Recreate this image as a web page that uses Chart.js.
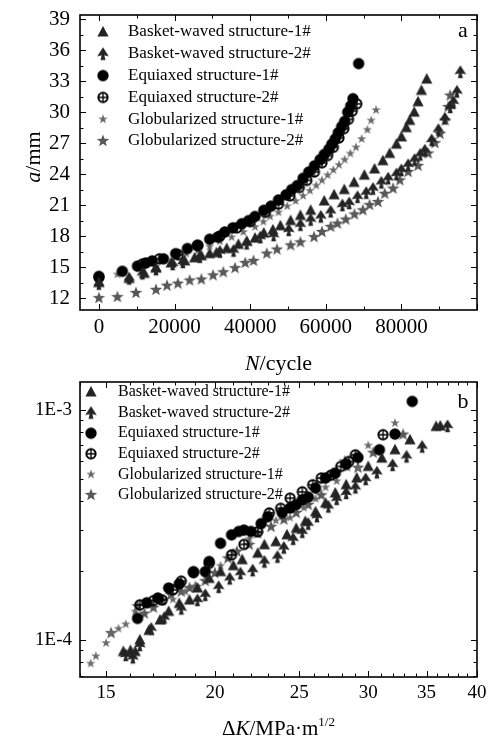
<!DOCTYPE html>
<html><head><meta charset="utf-8">
<script src="https://cdn.jsdelivr.net/npm/chart.js@4.4.1/dist/chart.umd.min.js"></script>
<style>
html,body{margin:0;padding:0;background:#fff;}
#wrap{position:relative;width:489px;height:743px;overflow:hidden;background:#fff;}
canvas{position:absolute;left:0;}
#c1{top:0;width:489px;height:380px;}
#c2{top:372px;width:489px;height:371px;}
</style></head><body>
<div id="wrap"><canvas id="c1" width="489" height="380"></canvas><canvas id="c2" width="489" height="371"></canvas></div>
<script>
// ---------- Chart (a): a vs N ----------
const seriesNames = ["Basket-waved structure-1#","Basket-waved structure-2#","Equiaxed structure-1#","Equiaxed structure-2#","Globularized structure-1#","Globularized structure-2#"];
const basket1N = [0,8000,12000,15100,19100,22700,25300,27100,29300,31100,33800,36900,39100,41300,43600,46000,48000,50700,53300,56000,59600,62200,64900,67500,70200,72900,75100,76900,78700,80000,81300,82200,83400,84400,85300,86700];
const basket1A = [13.5,13.9,14.4,14.9,15.4,15.6,15.9,16.1,16.3,16.4,16.8,17.2,17.5,17.8,18.3,18.6,19.0,19.5,20.0,20.5,21.4,22.0,22.5,23.2,23.9,24.5,25.3,26.0,26.9,27.6,28.5,29.2,30.0,31.0,32.1,33.2];
const basket2N = [0,8000,11500,15100,19500,22200,26700,32000,35600,39100,42700,46200,50200,53300,56000,58700,61300,64400,66200,68400,70700,72500,74700,76500,78700,80000,81800,83500,85000,86200,88000,89800,91500,92900,93800,94700,95600];
const basket2A = [13.4,13.9,14.4,14.8,15.3,15.5,16.0,16.5,16.6,17.3,17.9,18.1,18.6,19.1,19.6,19.9,20.4,21.0,21.2,21.8,22.2,22.6,23.2,23.6,24.0,24.4,24.9,25.4,25.9,26.3,27.3,28.3,29.4,30.5,31.0,32.0,33.9];
const equi1N = [0,6200,10200,12400,14100,17100,20300,23400,26200,29300,31400,33300,35400,37800,39600,41300,43600,45500,47500,49500,51000,52500,54000,55500,57000,58500,59600,60800,61600,62500,63300,64200,65000,65800,66600,67200,68700];
const equi1A = [14.1,14.6,15.1,15.4,15.6,15.8,16.3,16.8,17.1,17.7,17.9,18.4,18.8,19.2,19.5,19.9,20.5,20.9,21.5,22.0,22.5,22.9,23.6,24.2,24.8,25.4,25.9,26.4,26.9,27.4,28.0,28.6,29.1,30.0,30.6,31.3,34.7];
const equi2N = [0,11500,16000,21000,26000,32000,36500,40000,44000,47500,50500,53000,55000,57000,59000,60500,62000,63500,64800,66000,67000,68200];
const equi2A = [14.0,15.3,15.8,16.2,17.1,18.0,18.8,19.4,20.3,21.1,21.9,22.7,23.4,24.2,25.1,25.8,26.6,27.5,28.4,29.3,30.1,30.8];
const glob1N = [0,4900,10700,15100,20400,23100,26200,29300,32000,35100,38200,41300,43500,45300,47500,49800,52000,54000,55800,57500,59000,60500,62000,63500,65000,66500,68000,69500,71000,72000,73300];
const glob1A = [13.9,14.3,14.9,15.0,16.0,16.3,16.6,17.0,17.5,17.9,18.4,18.9,19.4,19.9,20.3,20.9,21.4,21.9,22.4,22.9,23.4,23.9,24.4,24.9,25.4,26.0,26.6,27.4,28.3,29.2,30.2];
const glob2N = [0,4900,9800,15100,18000,20900,24000,27100,30200,32900,36000,38700,40900,44400,47100,50700,53300,56900,59000,61300,63100,65300,67600,69800,71600,73800,75600,77800,79600,81800,84400,87100,88900,90200,91600,92400,92900];
const glob2A = [12.0,12.1,12.5,12.8,13.2,13.4,13.7,13.8,14.2,14.5,14.9,15.4,15.6,16.3,16.7,17.1,17.4,17.9,18.4,18.9,19.2,19.6,20.1,20.5,21.0,21.3,22.1,22.6,23.4,24.2,24.8,26.0,27.0,27.9,29.2,30.5,31.6];
const topXTicks = [0,20000,40000,60000,80000];
const topYTicks = [12,15,18,21,24,27,30,33,36,39];

// ---------- Chart (b): da/dN vs ΔK ----------
const basket1K = [15.7,16.0,16.2,16.4,16.8,17.3,17.7,18.2,18.7,19.1,19.7,20.3,21.0,21.5,22.4,22.8,23.5,24.2,24.8,25.4,26.1,26.8,27.5,28.3,29.1,30.0,31.1,32.2,33.5,35.9,36.3];
const basket1V = [8.9e-5,9.0e-5,8.9e-5,1.0e-4,1.1e-4,1.22e-4,1.33e-4,1.44e-4,1.49e-4,1.68e-4,1.85e-4,1.98e-4,2.1e-4,2.23e-4,2.38e-4,2.59e-4,2.67e-4,2.86e-4,3.05e-4,3.27e-4,3.6e-4,3.93e-4,4.35e-4,4.72e-4,5.05e-4,5.67e-4,6.16e-4,6.7e-4,7.4e-4,8.46e-4,8.5e-4];
const basket2K = [15.8,16.1,16.4,16.9,17.5,18.3,19.1,19.5,20.2,20.8,21.4,22.1,22.8,23.6,24.0,24.6,25.2,25.6,26.2,27.0,27.6,28.3,29.0,29.8,30.7,32.0,33.2,34.6,37.0];
const basket2V = [8.6e-5,8.4e-5,9.5e-5,1.12e-4,1.25e-4,1.37e-4,1.49e-4,1.57e-4,1.7e-4,1.85e-4,1.95e-4,2.01e-4,2.19e-4,2.3e-4,2.52e-4,2.75e-4,2.95e-4,3.2e-4,3.45e-4,3.8e-4,4.1e-4,4.35e-4,4.6e-4,5.0e-4,5.35e-4,5.76e-4,6.27e-4,6.92e-4,8.5e-4];
const equi1K = [16.3,16.7,17.2,17.7,18.2,18.9,19.5,19.7,20.3,20.9,21.3,21.6,22.0,22.6,23.0,23.9,24.4,24.8,25.2,25.6,26.1,26.8,27.5,28.3,29.2,30.9,32.2,33.7];
const equi1V = [1.24e-4,1.45e-4,1.52e-4,1.68e-4,1.75e-4,1.98e-4,1.98e-4,2.19e-4,2.63e-4,2.86e-4,2.96e-4,3.0e-4,2.96e-4,3.2e-4,3.43e-4,3.57e-4,3.74e-4,3.87e-4,4.06e-4,4.17e-4,4.57e-4,5.05e-4,5.3e-4,5.8e-4,6.2e-4,6.7e-4,7.84e-4,1.087e-3];
const equi2K = [16.4,17.0,17.4,17.9,18.3,18.9,19.7,20.9,21.6,22.4,23.1,23.8,24.4,25.2,25.9,26.5,27.2,27.9,28.5,29.0,31.2];
const equi2V = [1.42e-4,1.48e-4,1.49e-4,1.65e-4,1.8e-4,1.96e-4,2.15e-4,2.34e-4,2.6e-4,2.95e-4,3.56e-4,3.73e-4,4.13e-4,4.4e-4,4.72e-4,5.05e-4,5.2e-4,5.67e-4,5.96e-4,6.37e-4,7.79e-4];
const glob1K = [14.4,14.6,15.0,15.2,15.5,15.8,16.2,16.7,17.4,17.9,18.5,19.0,19.6,20.3,21.0,21.9,22.8,23.5,24.4,25.3,26.1,26.8,27.6,28.4,29.2,30.0,32.2];
const glob1V = [7.9e-5,8.5e-5,9.7e-5,1.07e-4,1.12e-4,1.17e-4,1.33e-4,1.42e-4,1.47e-4,1.5e-4,1.62e-4,1.7e-4,1.85e-4,2.1e-4,2.4e-4,2.75e-4,3.26e-4,3.3e-4,3.4e-4,3.75e-4,4.1e-4,4.6e-4,4.9e-4,5.6e-4,5.58e-4,7.0e-4,8.75e-4];
const glob2K = [15.2,16.3,16.6,17.0,17.4,17.8,18.3,18.7,19.0,19.5,20.0,20.7,21.2,21.9,22.4,23.2,24.0,24.8,25.6,26.5,27.3,28.2,29.2,30.4,32.9];
const glob2V = [1.07e-4,1.4e-4,1.3e-4,1.38e-4,1.49e-4,1.57e-4,1.62e-4,1.68e-4,1.7e-4,1.8e-4,1.95e-4,2.26e-4,2.42e-4,2.59e-4,2.9e-4,3.1e-4,3.33e-4,3.56e-4,3.86e-4,4.25e-4,5.3e-4,5.96e-4,5.6e-4,6.5e-4,7.8e-4];
const botXTicks = [15,20,25,30,35,40];
const botYTicks = [1e-4,1e-3];
const botYLabels = ["1E-4","1E-3"];

// ---------- helpers ----------
const FAM = '"Liberation Serif", "Times New Roman", serif';
Chart.defaults.font.family = FAM;
Chart.defaults.color = '#000';
const zip = (xs, ys) => xs.map((x, i) => ({x: x, y: ys[i]}));

function star(g, ro, ri, col){
  g.fillStyle = col; g.beginPath();
  for (let i = 0; i < 10; i++){
    const r = i % 2 ? ri : ro, a = -Math.PI/2 + i*Math.PI/5;
    g.lineTo(r*Math.cos(a), r*Math.sin(a));
  }
  g.closePath(); g.fill();
}
function marker(kind){
  const size = 16, c = document.createElement('canvas');
  c.width = c.height = size;
  const g = c.getContext('2d'); g.translate(size/2, size/2);
  if (kind === 'tri'){ g.fillStyle='#242424'; g.beginPath(); g.moveTo(0,-6); g.lineTo(5.6,4.4); g.lineTo(-5.6,4.4); g.closePath(); g.fill(); }
  else if (kind === 'spade'){ g.fillStyle='#242424'; g.beginPath(); g.moveTo(0,-6.4); g.lineTo(5.8,2.4); g.lineTo(1.3,1.6); g.lineTo(2.5,6.2); g.lineTo(-2.5,6.2); g.lineTo(-1.3,1.6); g.lineTo(-5.8,2.4); g.closePath(); g.fill(); }
  else if (kind === 'dot'){ g.fillStyle='#000'; g.beginPath(); g.arc(0,0,5.7,0,Math.PI*2); g.fill(); }
  else if (kind === 'oplus'){ g.strokeStyle='#000'; g.lineWidth=1.9; g.beginPath(); g.arc(0,0,4.7,0,Math.PI*2); g.stroke(); g.lineWidth=1.3; g.beginPath(); g.moveTo(-4.7,0); g.lineTo(4.7,0); g.moveTo(0,-4.7); g.lineTo(0,4.7); g.stroke(); }
  else if (kind === 'star'){ star(g, 5.0, 2.0, '#6a6a6a'); }
  else if (kind === 'bigstar'){ star(g, 6.6, 2.7, '#585858'); }
  return c;
}
const M = ['tri','spade','dot','oplus','star','bigstar'].map(marker);

function drawRich(ctx, parts, size, cx, base, rotate){
  ctx.save();
  ctx.fillStyle = '#000';
  ctx.textBaseline = 'alphabetic';
  const fnt = p => `${p.it ? 'italic ' : ''}${p.sup ? Math.round(size*0.62) : size}px ${FAM}`;
  let w = 0;
  parts.forEach(p => { ctx.font = fnt(p); w += ctx.measureText(p.t).width; });
  if (rotate){ ctx.translate(base, cx); ctx.rotate(-Math.PI/2); }
  else ctx.translate(cx, base);
  let x = -w/2;
  parts.forEach(p => {
    ctx.font = fnt(p);
    ctx.fillText(p.t, x, p.sup ? -size*0.42 : 0);
    x += ctx.measureText(p.t).width;
  });
  ctx.restore();
}

function decor(cfg){
  return {
    id: 'decor',
    afterDraw(chart){
      const {ctx, chartArea: a, scales: {x, y}} = chart;
      ctx.save();
      ctx.strokeStyle = '#000';
      ctx.lineWidth = 1;
      const tk = (vals, len, axis) => vals.forEach(v => {
        if (axis === 'x'){
          const p = Math.round(x.getPixelForValue(v)) + 0.5;
          ctx.beginPath(); ctx.moveTo(p, a.bottom); ctx.lineTo(p, a.bottom - len);
          ctx.moveTo(p, a.top); ctx.lineTo(p, a.top + len); ctx.stroke();
        } else {
          const p = Math.round(y.getPixelForValue(v)) + 0.5;
          ctx.beginPath(); ctx.moveTo(a.left, p); ctx.lineTo(a.left + len, p);
          ctx.moveTo(a.right, p); ctx.lineTo(a.right - len, p); ctx.stroke();
        }
      });
      tk(cfg.xMajor, 6, 'x'); tk(cfg.xMinor, 3.5, 'x');
      tk(cfg.yMajor, 6, 'y'); tk(cfg.yMinor, 3.5, 'y');
      ctx.lineWidth = 1.6;
      ctx.strokeRect(a.left, a.top, a.right - a.left, a.bottom - a.top);
      // legend
      ctx.fillStyle = '#000';
      ctx.textBaseline = 'middle';
      ctx.font = `${cfg.lg.size}px ${FAM}`;
      seriesNames.forEach((n, i) => {
        const yy = cfg.lg.y0 + i*cfg.lg.dy;
        ctx.drawImage(M[i], cfg.lg.mx - 8, yy - 8);
        ctx.fillText(n, cfg.lg.tx, yy);
      });
      // panel letter
      ctx.font = `${cfg.letter.size}px ${FAM}`;
      ctx.textAlign = 'center';
      ctx.fillText(cfg.letter.t, cfg.letter.x, cfg.letter.y);
      ctx.restore();
      cfg.titles.forEach(t => drawRich(chart.ctx, t.parts, t.size, t.c, t.b, t.rot));
    }
  };
}

function datasets(xsArr, ysArr){
  return xsArr.map((xs, i) => ({
    label: seriesNames[i], data: zip(xs, ysArr[i]), pointStyle: M[i],
    pointRadius: 6, showLine: false
  }));
}

function scaleX(type, min, max, ticks, size, h, labels){
  return {type, min, max, position: 'bottom',
    afterBuildTicks: s => { s.ticks = ticks.map(v => ({value: v})); },
    afterFit: s => { s.height = h; s.paddingLeft = 0; s.paddingRight = 0; },
    grid: {display: false, drawTicks: false}, border: {display: false},
    ticks: {font: {size}, color: '#000', padding: 5, maxRotation: 0, autoSkip: false,
      callback: v => labels ? labels[ticks.indexOf(v)] : String(v)}};
}
function scaleY(type, min, max, ticks, size, pad, labels){
  return {type, min, max, position: 'left',
    afterBuildTicks: s => { s.ticks = ticks.map(v => ({value: v})); },
    afterFit: s => { s.width = 80; s.paddingTop = 0; s.paddingBottom = 0; },
    grid: {display: false, drawTicks: false}, border: {display: false},
    ticks: {font: {size}, color: '#000', padding: pad, autoSkip: false,
      callback: v => { if (labels){ const k = ticks.findIndex(t => Math.abs(t - v) / t < 1e-6); return k >= 0 ? labels[k] : ''; } return String(v); }}};
}

const common = {responsive: false, animation: false, events: [],
  plugins: {legend: {display: false}, tooltip: {enabled: false}}};

// Chart (a)
new Chart(document.getElementById('c1'), {
  type: 'scatter',
  data: {datasets: datasets([basket1N, basket2N, equi1N, equi2N, glob1N, glob2N], [basket1A, basket2A, equi1A, equi2A, glob1A, glob2A])},
  options: Object.assign({}, common, {
    layout: {padding: {top: 15, right: 12, left: 0, bottom: 0}},
    scales: {
      x: scaleX('linear', -5000, 100000, topXTicks, 21, 70),
      y: scaleY('linear', 10.85, 39.4, topYTicks, 21, 10)
    }
  }),
  plugins: [decor({
    xMajor: [0,20000,40000,60000,80000,100000], xMinor: [10000,30000,50000,70000,90000],
    yMajor: topYTicks, yMinor: [13.5,16.5,19.5,22.5,25.5,28.5,31.5,34.5,37.5],
    lg: {size: 17, mx: 103, tx: 128, y0: 32, dy: 21.8},
    letter: {t: 'a', x: 463, y: 31, size: 22},
    titles: [
      {parts: [{t: 'N', it: true}, {t: '/cycle'}], size: 22, c: 278.5, b: 370, rot: false},
      {parts: [{t: 'a', it: true}, {t: '/mm'}], size: 22, c: 157, b: 40, rot: true}
    ]
  })]
});

// Chart (b)
new Chart(document.getElementById('c2'), {
  type: 'scatter',
  data: {datasets: datasets([basket1K, basket2K, equi1K, equi2K, glob1K, glob2K], [basket1V, basket2V, equi1V, equi2V, glob1V, glob2V])},
  options: Object.assign({}, common, {
    layout: {padding: {top: 10, right: 12, left: 0, bottom: 0}},
    scales: {
      x: scaleX('logarithmic', 14, 40, botXTicks, 19, 66),
      y: scaleY('logarithmic', 6.9e-5, 1.32e-3, botYTicks, 19, 8, botYLabels)
    }
  }),
  plugins: [decor({
    xMajor: botXTicks, xMinor: [14,16,17,18,19,21,22,23,24,26,27,28,29,31,32,33,34,36,37,38,39],
    yMajor: botYTicks, yMinor: [7e-5,8e-5,9e-5,2e-4,3e-4,4e-4,5e-4,6e-4,7e-4,8e-4,9e-4],
    lg: {size: 16, mx: 91, tx: 118, y0: 20, dy: 20.6},
    letter: {t: 'b', x: 463, y: 30, size: 22},
    titles: [
      {parts: [{t: 'Δ'}, {t: 'K', it: true}, {t: '/MPa·m'}, {t: '1/2', sup: true}], size: 21, c: 278.5, b: 363, rot: false},
      {parts: [{t: 'd'}, {t: 'a', it: true}, {t: '/d'}, {t: 'N', it: true}, {t: '/mm·cycle'}, {t: '-1', sup: true}], size: 21, c: 510, b: 31, rot: true}
    ]
  })]
});
</script>
</body></html>
